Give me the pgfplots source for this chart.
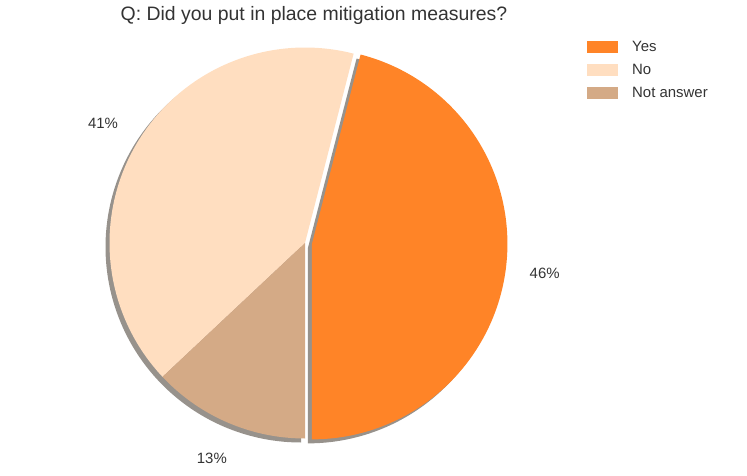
\documentclass[border=0pt]{standalone}
\usepackage{pgfplots}
\pgfplotsset{compat=1.18}
\usepackage{pgfplotstable}
\usepackage{fontspec}
\setmainfont{Liberation Sans}
\definecolor{cyes}{HTML}{FF8427}
\definecolor{cno}{HTML}{FFDEC0}
\definecolor{cna}{HTML}{D4AA86}
\definecolor{cshadow}{HTML}{97928C}
\definecolor{ctext}{HTML}{333333}

\pgfplotstableread{
label value
Yes 46
No 41
NotAnswer 13
}\piedata

\pgfplotstablegetelem{0}{value}\of\piedata \let\vA\pgfplotsretval
\pgfplotstablegetelem{1}{value}\of\piedata \let\vB\pgfplotsretval
\pgfplotstablegetelem{2}{value}\of\piedata \let\vC\pgfplotsretval

% geometry (pixel units, y downward)
\def\R{195.5}
\def\cx{305}
\def\cy{243}
\def\expl{7}
\def\sh{4}
\pgfmathsetmacro{\aO}{-90}
\pgfmathsetmacro{\aA}{\aO+3.6*\vA}
\pgfmathsetmacro{\aB}{\aA+3.6*\vB}
\pgfmathsetmacro{\aC}{\aB+3.6*\vC}
\pgfmathsetmacro{\mA}{(\aO+\aA)/2}
\pgfmathsetmacro{\mB}{(\aA+\aB)/2}
\pgfmathsetmacro{\mC}{(\aB+\aC)/2}
\pgfmathsetmacro{\cxY}{\cx+\expl*cos(\mA)}
\pgfmathsetmacro{\cyY}{\cy-\expl*sin(\mA)}
\pgfmathsetmacro{\lAx}{\cxY+1.2*\R*cos(\mA)}
\pgfmathsetmacro{\lAy}{\cyY-1.2*\R*sin(\mA)}
\pgfmathsetmacro{\lBx}{\cx+1.2*\R*cos(\mB)}
\pgfmathsetmacro{\lBy}{\cy-1.2*\R*sin(\mB)}
\pgfmathsetmacro{\lCx}{\cx+1.2*\R*cos(\mC)}
\pgfmathsetmacro{\lCy}{\cy-1.2*\R*sin(\mC)}
\pgfmathsetmacro{\sxY}{\cxY-\sh}
\pgfmathsetmacro{\syY}{\cyY+\sh}
\pgfmathsetmacro{\sx}{\cx-\sh}
\pgfmathsetmacro{\sy}{\cy+\sh}

\begin{document}
\begin{tikzpicture}
\begin{axis}[
  scale only axis, width=747bp, height=476bp,
  xmin=0, xmax=747, ymin=0, ymax=476, y dir=reverse,
  hide axis, clip=false,
  legend image code/.code={\fill[#1] (0bp,-6bp) rectangle (31bp,6bp);},
  legend style={at={(axis cs:587,40)}, anchor=north west, draw=none, fill=none,
    font=\fontsize{15}{18}\selectfont, text=ctext, cells={anchor=west},
    row sep=9bp, inner sep=0pt,
    nodes={inner xsep=0pt, inner ysep=0pt, text height=11bp, text depth=3bp},
    /tikz/every odd column/.append style={column sep=14bp}},
]
\path (rel axis cs:0,0) rectangle (rel axis cs:1,1);
% shadows
\addplot[forget plot, fill=cshadow, draw=none, domain=\aO:\aA, samples=120]
  ({\sxY+\R*cos(x)},{\syY-\R*sin(x)}) -- (\sxY,\syY) -- cycle;
\addplot[forget plot, fill=cshadow, draw=none, domain=\aA:\aC, samples=160]
  ({\sx+\R*cos(x)},{\sy-\R*sin(x)}) -- (\sx,\sy) -- cycle;
% wedges
\addplot[forget plot, fill=cyes, draw=none, domain=\aO:\aA, samples=120]
  ({\cxY+\R*cos(x)},{\cyY-\R*sin(x)}) -- (\cxY,\cyY) -- cycle;
\addplot[forget plot, fill=cno, draw=none, domain=\aA:\aB, samples=120]
  ({\cx+\R*cos(x)},{\cy-\R*sin(x)}) -- (\cx,\cy) -- cycle;
\addplot[forget plot, fill=cna, draw=none, domain=\aB:\aC, samples=60]
  ({\cx+\R*cos(x)},{\cy-\R*sin(x)}) -- (\cx,\cy) -- cycle;
% legend
\addlegendimage{fill=cyes, draw=none}
\addlegendentry{Yes}
\addlegendimage{fill=cno, draw=none}
\addlegendentry{No}
\addlegendimage{fill=cna, draw=none}
\addlegendentry{Not answer}
% labels
\node[font=\fontsize{15}{18}\selectfont, text=ctext] at (axis cs:\lAx,\lAy) {\vA\%};
\node[font=\fontsize{15}{18}\selectfont, text=ctext] at (axis cs:\lBx,\lBy) {\vB\%};
\node[font=\fontsize{15}{18}\selectfont, text=ctext] at (axis cs:\lCx,\lCy) {\vC\%};
\node[font=\fontsize{19.5}{23}\selectfont, text=ctext] at (axis cs:314,15) {Q: Did you put in place mitigation measures?};
\end{axis}
\end{tikzpicture}
\end{document}
